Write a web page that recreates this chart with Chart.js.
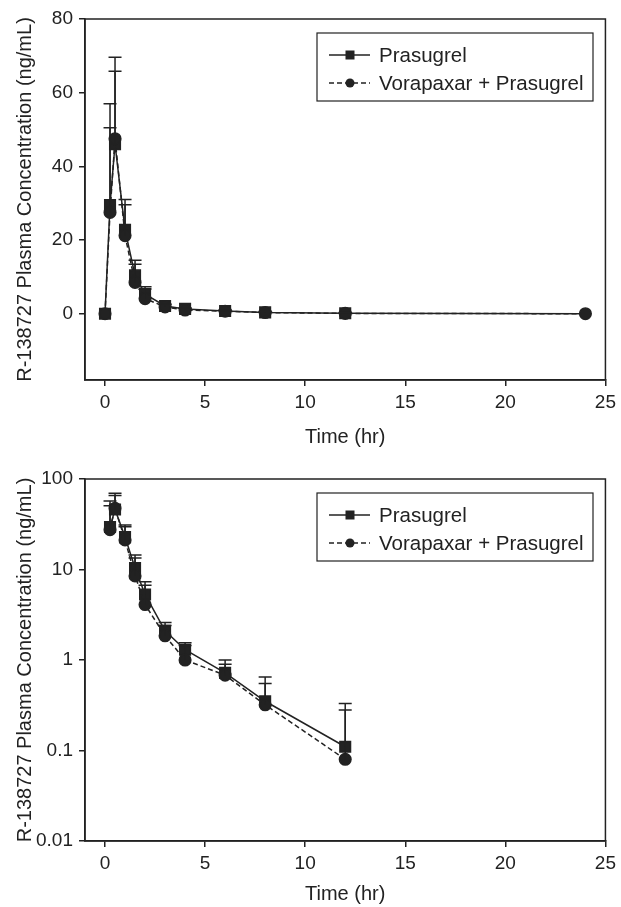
<!DOCTYPE html>
<html>
<head>
<meta charset="utf-8">
<script src="https://cdn.jsdelivr.net/npm/chart.js@4"></script>
<style>
  body { margin: 0; background: #fff; }
  .box { position: relative; width: 621px; }
  #top_box { height: 455px; }
  #bottom_box { height: 452px; }
</style>
</head>
<body>
<div class="box" id="top_box"><canvas id="grafica_lineal"></canvas></div>
<div class="box" id="bottom_box"><canvas id="grafica_log"></canvas></div>
<script>
// datos
const times = [0, 0.25, 0.5, 1, 1.5, 2, 3, 4, 6, 8, 12, 24];
const prasugrel = [0, 29.5, 46, 22.8, 10.4, 5.3, 2.1, 1.3, 0.72, 0.35, 0.11, 0];
const vorapaxarPrasugrel = [0, 27.5, 47.5, 21.2, 8.5, 4.1, 1.85, 1.0, 0.68, 0.32, 0.08, 0];
const prasugrelUpper = [null, 57, 65.8, 31, 14.5, 7.3, 2.6, 1.55, 1.0, 0.65, 0.33, null];
const vorapaxarUpper = [null, 50.5, 69.6, 29.6, 13.4, 6.7, 2.4, 1.45, 0.9, 0.55, 0.28, null];
const labels = ['Prasugrel', 'Vorapaxar + Prasugrel'];
const xTicks = [0, 5, 10, 15, 20, 25];
const yTicksLinear = [0, 20, 40, 60, 80];
const yTicksLog = [0.01, 0.1, 1, 10, 100];
const yTitle = 'R-138727 Plasma Concentration (ng/mL)';
const xTitle = 'Time (hr)';

const INK = '#222';
const FONT = 'Liberation Sans, Arial, Helvetica, sans-serif';

document.addEventListener("DOMContentLoaded", () => {
	Grafica('grafica_lineal', false, 19);
	Grafica('grafica_log', true, 24);
});

function points(vals, isLog) {
	return times.map((t, i) => ({ x: t, y: (isLog && !(vals[i] > 0)) ? null : vals[i] }));
}

// barras de error (solo hacia arriba)
const errorBars = {
	id: 'errorBars',
	afterDatasetsDraw(chart) {
		const ctx = chart.ctx;
		const yScale = chart.scales.y;
		ctx.save();
		ctx.strokeStyle = INK;
		ctx.lineWidth = 1.5;
		chart.data.datasets.forEach((ds, i) => {
			const meta = chart.getDatasetMeta(i);
			meta.data.forEach((pt, j) => {
				const up = ds.upper[j];
				if (up == null || ds.data[j].y == null) return;
				const yTop = yScale.getPixelForValue(up);
				ctx.beginPath();
				ctx.moveTo(pt.x, pt.y);
				ctx.lineTo(pt.x, yTop);
				ctx.moveTo(pt.x - 6.5, yTop);
				ctx.lineTo(pt.x + 6.5, yTop);
				ctx.stroke();
			});
		});
		ctx.restore();
	}
};

// marco completo y leyenda
const frameLegend = {
	id: 'frameLegend',
	afterDraw(chart) {
		const ctx = chart.ctx;
		const a = chart.chartArea;
		ctx.save();
		ctx.strokeStyle = INK;
		ctx.lineWidth = 1.5;
		ctx.strokeRect(a.left, a.top, a.right - a.left, a.bottom - a.top);

		const bx = a.left + 232, by = a.top + 14, bw = 276, bh = 68;
		ctx.fillStyle = '#fff';
		ctx.fillRect(bx, by, bw, bh);
		ctx.lineWidth = 1.2;
		ctx.strokeRect(bx, by, bw, bh);

		labels.forEach((name, i) => {
			const ds = chart.data.datasets.find(d => d.label === name);
			const cy = by + 22 + i * 28;
			ctx.strokeStyle = INK;
			ctx.lineWidth = 1.5;
			ctx.setLineDash(ds.borderDash || []);
			ctx.beginPath();
			ctx.moveTo(bx + 12, cy);
			ctx.lineTo(bx + 53, cy);
			ctx.stroke();
			ctx.setLineDash([]);
			ctx.fillStyle = INK;
			if (ds.pointStyle === 'rect') {
				ctx.fillRect(bx + 33 - 4.5, cy - 4.5, 9, 9);
			} else {
				ctx.beginPath();
				ctx.arc(bx + 33, cy, 4.5, 0, Math.PI * 2);
				ctx.fill();
			}
			ctx.font = '20.5px ' + FONT;
			ctx.textBaseline = 'middle';
			ctx.textAlign = 'left';
			ctx.fillText(name, bx + 62, cy + 1);
		});
		ctx.restore();
	}
};

function Grafica(id, isLog, padTop) {
	const canvas2d = document.getElementById(id).getContext('2d');
	const axisFont = { family: FONT, size: 19 };
	const titleFont = { family: FONT, size: 20 };

	new Chart(canvas2d, {
		type: 'line',
		data: {
			datasets: [
				{
					label: labels[1],
					data: points(vorapaxarPrasugrel, isLog),
					upper: vorapaxarUpper,
					borderColor: INK,
					backgroundColor: INK,
					borderWidth: 1.5,
					borderDash: [5, 3],
					pointStyle: 'circle',
					pointRadius: 5.8,
					pointHoverRadius: 5.8,
					order: 0
				},
				{
					label: labels[0],
					data: points(prasugrel, isLog),
					upper: prasugrelUpper,
					borderColor: INK,
					backgroundColor: INK,
					borderWidth: 1.5,
					pointStyle: 'rect',
					// el cuadrado de 24 h queda oculto bajo el circulo en la figura
					pointRadius: c => (c.raw && c.raw.x === 24) ? 0 : 7.5,
					pointHoverRadius: 7.5,
					order: 1
				}
			]
		},
		options: {
			responsive: true,
			maintainAspectRatio: false,
			animation: false,
			clip: false,
			layout: { padding: { top: padTop, right: 15, left: 0, bottom: 0 } },
			plugins: { legend: { display: false }, tooltip: { enabled: false } },
			scales: {
				x: {
					type: 'linear',
					min: -1,
					max: 25,
					afterBuildTicks: s => { s.ticks = xTicks.map(v => ({ value: v })); },
					afterFit: s => { s.height = isLog ? 66 : 75; },
					grid: { display: true, drawOnChartArea: false, drawTicks: true, tickLength: 6, color: INK, lineWidth: 1.5 },
					border: { display: true, color: INK, width: 1.5 },
					ticks: { color: INK, font: axisFont, padding: 5, maxRotation: 0 },
					title: { display: true, text: xTitle, color: INK, font: titleFont, padding: { top: 0, bottom: isLog ? 0.5 : 6 } }
				},
				y: {
					type: isLog ? 'logarithmic' : 'linear',
					min: isLog ? 0.01 : -18,
					max: isLog ? 100 : 80,
					afterBuildTicks: s => { s.ticks = (isLog ? yTicksLog : yTicksLinear).map(v => ({ value: v })); },
					afterFit: s => { s.width = 85; },
					grid: { display: true, drawOnChartArea: false, drawTicks: true, tickLength: 6, color: INK, lineWidth: 1.5 },
					border: { display: true, color: INK, width: 1.5 },
					ticks: { color: INK, font: axisFont, padding: 6, callback: v => String(v) },
					title: { display: true, text: yTitle, color: INK, font: titleFont, padding: { top: 13, bottom: 0 } }
				}
			}
		},
		plugins: [errorBars, frameLegend]
	});
}
</script>
</body>
</html>
